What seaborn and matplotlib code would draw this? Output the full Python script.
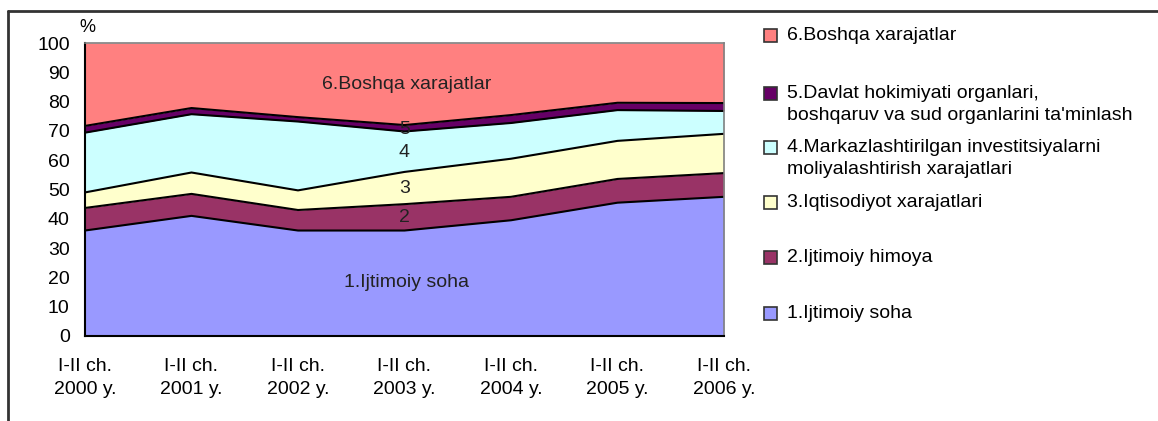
import numpy as np
import pandas as pd
import matplotlib
matplotlib.use("Agg")
import matplotlib.pyplot as plt
from matplotlib.patches import Rectangle
from matplotlib.lines import Line2D
import seaborn as sns

# Ulushlar (%), yarim yillik ma'lumotlar
davrlar = ["I-II ch.\n2000 y.", "I-II ch.\n2001 y.", "I-II ch.\n2002 y.", "I-II ch.\n2003 y.",
           "I-II ch.\n2004 y.", "I-II ch.\n2005 y.", "I-II ch.\n2006 y."]
ijtimoiy_soha = [36.0, 41.0, 36.0, 36.0, 39.5, 45.5, 47.5]
ijtimoiy_himoya = [7.7, 7.5, 7.0, 9.0, 8.0, 8.1, 8.1]
iqtisodiyot = [5.3, 7.3, 6.7, 11.0, 13.0, 13.0, 13.4]
investitsiya = [20.4, 19.9, 23.5, 13.8, 12.2, 10.5, 7.8]
davlat_organlari = [2.3, 2.1, 1.5, 2.2, 2.7, 2.5, 2.7]
boshqa = [28.3, 22.2, 25.3, 28.0, 24.6, 20.4, 20.5]

nomlar = ["1.Ijtimoiy soha", "2.Ijtimoiy himoya", "3.Iqtisodiyot xarajatlari",
          "4.Markazlashtirilgan investitsiyalarni\nmoliyalashtirish xarajatlari",
          "5.Davlat hokimiyati organlari,\nboshqaruv va sud organlarini ta'minlash",
          "6.Boshqa xarajatlar"]
ranglar = ["#9999FF", "#993366", "#FFFFCC", "#CCFFFF", "#660066", "#FF8080"]

sns.set_theme(style="white")
plt.rcParams["font.family"] = ["Liberation Sans", "DejaVu Sans"]

W, H = 1158, 421
FS = 14
fig = plt.figure(figsize=(W / 100, H / 100), dpi=100)
ax = fig.add_axes([85 / W, 1 - 336 / H, (724 - 85) / W, (336 - 43) / H])

x = np.arange(len(davrlar))
qatlamlar = [ijtimoiy_soha, ijtimoiy_himoya, iqtisodiyot, investitsiya, davlat_organlari, boshqa]
ax.stackplot(x, *qatlamlar, colors=ranglar, linewidth=0)

# chegaralar: jamlangan qiymatlar seaborn bilan
jam = np.cumsum(np.array(qatlamlar), axis=0)
df = pd.DataFrame({"x": np.tile(x, 5), "y": jam[:5].ravel(),
                   "qatlam": np.repeat(np.arange(5), len(x))})
sns.lineplot(data=df, x="x", y="y", units="qatlam", estimator=None,
             color="black", linewidth=1.5, ax=ax, legend=False)

ax.set_xlim(0, 6)
ax.set_ylim(0, 100)
ax.set_yticks(range(0, 101, 10))
ax.set_xticks(x)
ax.set_xticklabels(davrlar, linespacing=1.45)
ax.set_xlabel("")
ax.set_ylabel("")
ax.tick_params(axis="both", labelsize=FS, colors="black", length=6, width=1.2, direction="out")
ax.tick_params(axis="x", pad=10)
ax.tick_params(axis="y", pad=5)
for s in ["top", "right"]:
    ax.spines[s].set_color("#808080")
    ax.spines[s].set_linewidth(1.2)
for s in ["left", "bottom"]:
    ax.spines[s].set_color("black")
    ax.spines[s].set_linewidth(1.5)

# ichki yozuvlar
ax.text(3.02, 85.7, "6.Boshqa xarajatlar", ha="center", va="center", fontsize=FS, color="#222222")
ax.text(3.0, 70.5, "5", ha="center", va="center", fontsize=FS, color="#222222")
ax.text(3.0, 62.5, "4", ha="center", va="center", fontsize=FS, color="#222222")
ax.text(3.0, 50.5, "3", ha="center", va="center", fontsize=FS, color="#222222")
ax.text(3.0, 40.3, "2", ha="center", va="center", fontsize=FS, color="#222222")
ax.text(3.02, 18.4, "1.Ijtimoiy soha", ha="center", va="center", fontsize=FS, color="#222222")

fig.text(87 / W, 1 - 27 / H, "%", ha="center", va="center", fontsize=13, color="black")

# legend qo'lda
legend_y = [313, 257, 202, 147, 93, 35]
for nom, rang, yp in zip(nomlar, ranglar, legend_y):
    fig.patches.append(Rectangle((764 / W, 1 - (yp + 6.5) / H), 13 / W, 13 / H,
                                 transform=fig.transFigure, facecolor=rang,
                                 edgecolor="#333333", linewidth=1.2))
    fig.text(787 / W, 1 - (yp - 8) / H, nom, ha="left", va="top", fontsize=FS,
             color="black", linespacing=1.4)

# ramka
fig.lines.append(Line2D([8 / W, 1], [1 - 11 / H, 1 - 11 / H], transform=fig.transFigure,
                        color="#333333", linewidth=2))
fig.lines.append(Line2D([8 / W, 8 / W], [0, 1 - 11 / H], transform=fig.transFigure,
                        color="#333333", linewidth=2))

fig.savefig("out.png", dpi=100, facecolor="white")
